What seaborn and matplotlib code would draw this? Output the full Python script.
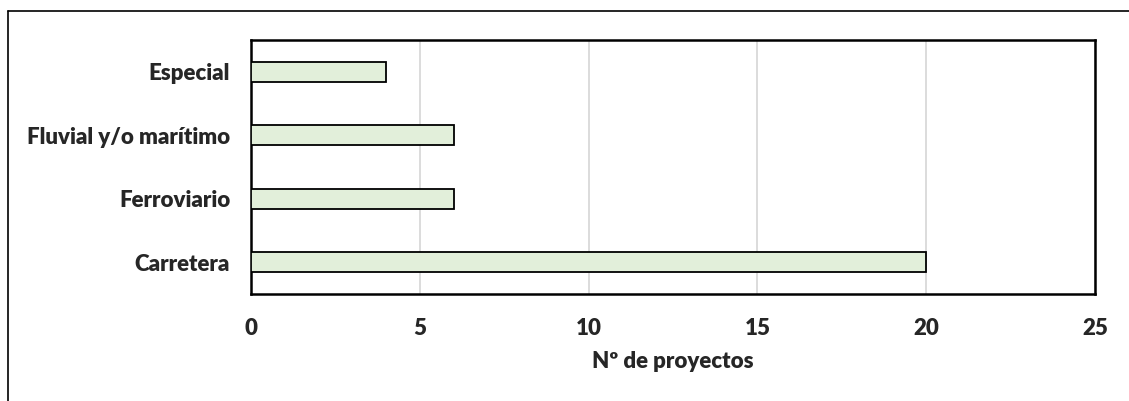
import pandas as pd
import matplotlib.pyplot as plt
import seaborn as sns
from matplotlib.lines import Line2D

# datos del gráfico
categorias = ['Especial', 'Fluvial y/o marítimo', 'Ferroviario', 'Carretera']
proyectos = [4, 6, 6, 20]
ticks_x = [0, 5, 10, 15, 20, 25]

sns.set_theme(style='white')
plt.rcParams['font.family'] = ['Lato', 'DejaVu Sans']
plt.rcParams['font.weight'] = 'bold'

df = pd.DataFrame({'tipo': categorias, 'n': proyectos})

fig = plt.figure(figsize=(11.29, 4.01), dpi=100)
ax = fig.add_axes([0.2223, 0.2668, 0.7476, 0.6334])

sns.barplot(data=df, x='n', y='tipo', order=categorias, orient='h',
            color='#E2EFDA', edgecolor='black', linewidth=1.3,
            width=0.32, saturation=1, ax=ax, zorder=3)

ax.set_xlim(0, 25)
ax.set_xticks(ticks_x)
ax.set_xticklabels([str(t) for t in ticks_x], fontsize=16, fontweight='heavy')
ax.tick_params(axis='x', length=0, pad=17)
ax.tick_params(axis='y', length=0, pad=15, labelsize=16)
for lbl in ax.get_yticklabels():
    lbl.set_fontweight('heavy')
ax.xaxis.grid(True, color='#D9D9D9', linewidth=1.3, zorder=0)
ax.set_axisbelow(True)
ax.set_xlabel('Nº de proyectos', fontsize=16, fontweight='heavy', labelpad=9)
ax.set_ylabel('')
for s in ax.spines.values():
    s.set_visible(True)
    s.set_color('black')
    s.set_linewidth(1.8)

# marco exterior (recortado)
fig.add_artist(Line2D([0.0071, 1.0], [1 - 11/401, 1 - 11/401], color='black', linewidth=1.2))
fig.add_artist(Line2D([0.0071, 0.0071], [0.0, 1 - 11/401], color='black', linewidth=1.2))

plt.savefig('out.png', dpi=100)
